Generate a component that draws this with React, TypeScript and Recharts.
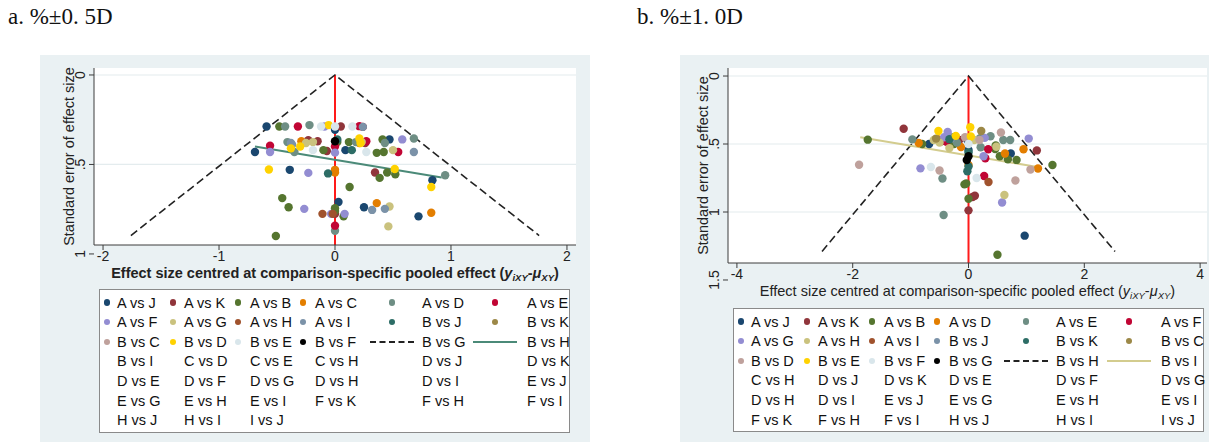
import React from "react";
import {
  CartesianGrid,
  ComposedChart,
  Line,
  ReferenceLine,
  Scatter,
  XAxis,
  YAxis,
} from "recharts";

type Pt = [number, number]; // [centred effect, standard error]

// Stata s2color marker palette, in legend order
const PALETTE = [
  "#1a476f", "#90353b", "#55752f", "#e37e00", "#6e8e84", "#c10534",
  "#938dd2", "#cac27e", "#a0522d", "#7b92a8", "#2d6d66", "#9c8847",
  "#bfa19c", "#ffd200", "#d9e6eb", "#000000",
];

const legendA = [
  "A vs J", "A vs K", "A vs B", "A vs C", "A vs D", "A vs E",
  "A vs F", "A vs G", "A vs H", "A vs I", "B vs J", "B vs K",
  "B vs C", "B vs D", "B vs E", "B vs F", "B vs G", "B vs H",
  "B vs I", "C vs D", "C vs E", "C vs H", "D vs J", "D vs K",
  "D vs E", "D vs F", "D vs G", "D vs H", "D vs I", "E vs J",
  "E vs G", "E vs H", "E vs I", "F vs K", "F vs H", "F vs I",
  "H vs J", "H vs I", "I vs J",
];

const legendB = [
  "A vs J", "A vs K", "A vs B", "A vs D", "A vs E", "A vs F",
  "A vs G", "A vs H", "A vs I", "B vs J", "B vs K", "B vs C",
  "B vs D", "B vs E", "B vs F", "B vs G", "B vs H", "B vs I",
  "C vs H", "D vs J", "D vs K", "D vs E", "D vs F", "D vs G",
  "D vs H", "D vs I", "E vs J", "E vs G", "E vs H", "E vs I",
  "F vs K", "F vs H", "F vs I", "H vs J", "H vs I", "I vs J",
];

// ---- panel a: ±0.5D ----
const a_AvsJ: Pt[] = [[-0.59, 0.288], [0.0, 0.306], [-0.69, 0.43], [0.09, 0.42], [0.47, 0.36], [-0.39, 0.53], [0.84, 0.588], [0.03, 0.71], [0.25, 0.739], [0.72, 0.79]];
const a_AvsK: Pt[] = [[0.05, 0.288], [0.24, 0.29], [-0.23, 0.365], [-0.15, 0.37], [-0.07, 0.425], [0.26, 0.38], [0.345, 0.545], [0.0, 0.776]];
const a_AvsB: Pt[] = [[-0.48, 0.288], [-0.1, 0.42], [0.02, 0.375], [0.12, 0.375], [0.41, 0.36], [0.36, 0.435], [0.42, 0.43], [0.385, 0.575], [0.45, 0.545], [0.52, 0.555], [0.126, 0.626], [-0.455, 0.688], [-0.4, 0.739], [0.0, 0.744], [0.074, 0.79], [-0.51, 0.9], [0.0, 0.76]];
const a_AvsC: Pt[] = [[-0.29, 0.37], [0.0, 0.53], [0.0, 0.545], [0.36, 0.716], [0.83, 0.77], [0.21, 0.38]];
const a_AvsD: Pt[] = [[-0.43, 0.288], [-0.22, 0.28], [-0.41, 0.375], [0.18, 0.375], [0.43, 0.38], [0.68, 0.355], [0.95, 0.56], [0.0, 0.87], [-0.35, 0.43]];
const a_AvsE: Pt[] = [[-0.32, 0.288], [0.21, 0.286], [-0.56, 0.395], [0.0, 0.4], [0.545, 0.43], [0.0, 0.842], [0.27, 0.37]];
const a_AvsF: Pt[] = [[-0.09, 0.288], [-0.56, 0.43], [0.0, 0.434], [0.58, 0.36], [-0.23, 0.547], [-0.265, 0.748], [-0.034, 0.776], [0.083, 0.776]];
const a_AvsG: Pt[] = [[-0.19, 0.375], [-0.25, 0.38], [0.5, 0.42], [0.47, 0.735], [0.46, 0.846], [0.23, 0.375]];
const a_AvsH: Pt[] = [[-0.108, 0.776], [-0.02, 0.776]];
const a_AvsI: Pt[] = [[-0.38, 0.38], [0.24, 0.29], [0.68, 0.43], [0.32, 0.754], [0.43, 0.748], [-0.37, 0.39]];
const a_BvsJ: Pt[] = [[0.02, 0.36], [0.145, 0.42], [-0.06, 0.55]];
const a_BvsK: Pt[] = [];
const a_BvsC: Pt[] = [];
const a_BvsD: Pt[] = [[-0.055, 0.28], [-0.38, 0.41], [0.21, 0.355], [0.22, 0.38], [-0.57, 0.528], [0.515, 0.525], [0.83, 0.626], [-0.3, 0.4]];
const a_BvsE: Pt[] = [[-0.12, 0.288], [0.0, 0.288], [0.15, 0.288], [-0.19, 0.42], [0.27, 0.43]];
const a_BvsF: Pt[] = [[0.0, 0.37]];
const a_funnel: Pt[] = [[-1.76, 0.897], [0, 0], [1.76, 0.897]];
const a_fit: Pt[] = [[-0.69, 0.4], [0.92, 0.573]];

// ---- panel b: ±1.0D ----
const b_AvsJ: Pt[] = [[-0.68, 0.5], [0.0, 0.544], [0.73, 0.57], [0.97, 1.174], [-0.02, 0.47]];
const b_AvsK: Pt[] = [[-1.12, 0.388], [-0.47, 0.48], [-0.16, 0.47], [0.11, 0.88], [0.07, 0.89], [0.0, 0.988], [1.18, 0.547]];
const b_AvsB: Pt[] = [[-1.74, 0.468], [-0.8, 0.5], [-0.25, 0.5], [0.47, 0.51], [0.46, 0.537], [0.54, 0.59], [0.68, 0.613], [0.83, 0.617], [1.45, 0.654], [-0.07, 0.797], [-0.04, 0.79], [0.0, 0.902], [0.5, 1.314]];
const b_AvsD: Pt[] = [[-0.86, 0.492], [-0.53, 0.465], [-0.13, 0.522], [0.0, 0.654], [0.63, 0.57], [0.95, 0.539], [1.2, 0.68]];
const b_AvsE: Pt[] = [[-0.97, 0.466], [-0.27, 0.45], [-0.2, 0.49], [0.2, 0.458], [0.38, 0.443], [0.6, 0.47], [0.72, 0.47], [0.21, 0.524], [-0.45, 0.754], [-0.43, 1.022]];
const b_AvsF: Pt[] = [[-0.38, 0.483], [0.34, 0.539], [0.29, 0.605], [0.27, 0.735]];
const b_AvsG: Pt[] = [[-0.36, 0.412], [-0.42, 0.45], [0.28, 0.455], [0.26, 0.59], [1.04, 0.46], [-0.83, 0.679], [0.58, 0.93]];
const b_AvsH: Pt[] = [[-0.6, 0.47], [-0.5, 0.49], [-0.33, 0.53], [0.48, 0.52], [0.62, 0.875], [0.1, 0.47]];
const b_AvsI: Pt[] = [[0.345, 0.779]];
const b_BvsJ: Pt[] = [[-0.3, 0.46]];
const b_BvsK: Pt[] = [[-0.33, 0.465], [0.0, 0.56], [-0.02, 0.7], [0.0, 0.665]];
const b_BvsC: Pt[] = [[0.22, 0.404], [-0.56, 0.46]];
const b_BvsD: Pt[] = [[-1.89, 0.652], [-0.06, 0.45], [0.56, 0.415], [-0.5, 0.695], [1.07, 0.688], [0.81, 0.768], [0.19, 0.47]];
const b_BvsE: Pt[] = [[-0.52, 0.404], [0.03, 0.377], [0.04, 0.445], [-0.22, 0.44]];
const b_BvsF: Pt[] = [[-0.65, 0.669], [0.14, 0.75], [0.0, 0.5]];
const b_BvsG: Pt[] = [[-0.03, 0.618], [0.0, 0.59]];
const b_funnel: Pt[] = [[-2.53, 1.29], [0, 0], [2.53, 1.29]];
const b_fit: Pt[] = [[-1.87, 0.451], [1.21, 0.67]];

const seriesA = [a_AvsJ, a_AvsK, a_AvsB, a_AvsC, a_AvsD, a_AvsE, a_AvsF, a_AvsG, a_AvsH, a_AvsI, a_BvsJ, a_BvsK, a_BvsC, a_BvsD, a_BvsE, a_BvsF];
const seriesB = [b_AvsJ, b_AvsK, b_AvsB, b_AvsD, b_AvsE, b_AvsF, b_AvsG, b_AvsH, b_AvsI, b_BvsJ, b_BvsK, b_BvsC, b_BvsD, b_BvsE, b_BvsF, b_BvsG];

const FONT = '"Liberation Sans", Arial, Helvetica, sans-serif';
const SERIF = '"Liberation Serif", "DejaVu Serif", serif';
const BG = "#eaf1f3";
const GRID = "#e4ecee";
const AXIS = "#3c3c3c";

const toXY = (pts: Pt[]) => pts.map(([x, y]) => ({ x, y }));
const fmtSE = (v: number) => String(v).replace(/^0\./, ".");

function Dot(props: any) {
  const { cx, cy, fill } = props;
  if (cx == null || cy == null) return null;
  return <circle cx={cx} cy={cy} r={4.2} fill={fill} />;
}

function RotTick(props: any) {
  const { x, y, payload } = props;
  return (
    <text x={x} y={y} transform={`rotate(-90 ${x} ${y})`} textAnchor="middle" fontSize={14} fill="#222" fontFamily={FONT}>
      {fmtSE(payload.value)}
    </text>
  );
}

function YTitle(props: any) {
  const { viewBox, dx } = props;
  const x = viewBox.x + dx;
  const y = viewBox.y + viewBox.height / 2;
  return (
    <text x={x} y={y} transform={`rotate(-90 ${x} ${y})`} textAnchor="middle" fontSize={14.5} fill="#222" fontFamily={FONT}>
      Standard error of effect size
    </text>
  );
}

function XTitle(props: any) {
  const { viewBox, dy, bold } = props;
  return (
    <text x={viewBox.x + viewBox.width / 2} y={viewBox.y + dy} textAnchor="middle" fontSize={14.5} fill="#222" fontFamily={FONT} fontWeight={bold ? 700 : 400}>
      Effect size centred at comparison-specific pooled effect (
      <tspan fontStyle="italic">y</tspan>
      <tspan fontStyle="italic" fontSize={9.5} dy={3}>iXY</tspan>
      <tspan dy={-3}>-</tspan>
      <tspan fontStyle="italic">μ</tspan>
      <tspan fontStyle="italic" fontSize={9.5} dy={3}>XY</tspan>
      <tspan dy={-3}>)</tspan>
    </text>
  );
}

const SYM_X = [7, 73, 138, 203, 292, 395];
const TXT_X = [17, 84, 150, 215, 322, 427];

function StataLegend({ names, lineColor, left, top, height }: { names: string[]; lineColor: string; left: number; top: number; height: number }) {
  return (
    <div style={{ position: "absolute", left, top, width: 471, height, background: "#fff", border: "1.5px solid #8a8a8a", boxSizing: "border-box", fontFamily: FONT, fontSize: 14.5, color: "#111" }}>
      {names.map((n, i) => {
        const row = Math.floor(i / 6);
        const col = i % 6;
        const cy = 12.5 + row * 19.6;
        let sym: React.ReactNode = null;
        if (i < 16) {
          sym = <div style={{ position: "absolute", left: SYM_X[col] - 3.2, top: cy - 3.2, width: 6.4, height: 6.4, borderRadius: "50%", background: PALETTE[i] }} />;
        } else if (i === 16) {
          sym = <div style={{ position: "absolute", left: SYM_X[col] - 22, top: cy - 1, width: 44, height: 0, borderTop: "2px dashed #222" }} />;
        } else if (i === 17) {
          sym = <div style={{ position: "absolute", left: SYM_X[col] - 22, top: cy - 1, width: 44, height: 2, background: lineColor }} />;
        }
        return (
          <React.Fragment key={n + i}>
            {sym}
            <div style={{ position: "absolute", left: TXT_X[col], top: cy - 9, lineHeight: "18px", whiteSpace: "nowrap" }}>{n}</div>
          </React.Fragment>
        );
      })}
    </div>
  );
}

function Funnel({
  series, funnel, fit, fitColor, width, height, marginRight, yAxisWidth, xAxisHeight, xDomain, yDomain, xTicks, yTicks, grid, bold,
}: {
  series: Pt[][]; funnel: Pt[]; fit: Pt[]; fitColor: string; width: number; height: number; marginRight: number;
  yAxisWidth: number; xAxisHeight: number; xDomain: [number, number]; yDomain: [number, number];
  xTicks: number[]; yTicks: number[]; grid: number[]; bold: boolean;
}) {
  return (
    <ComposedChart width={width} height={height} margin={{ top: 13, right: marginRight, bottom: 0, left: 0 }} style={{ fontFamily: FONT }}>
      <CartesianGrid horizontal={false} vertical={false} fill="#ffffff" />
      <XAxis
        type="number" dataKey="x" domain={xDomain} ticks={xTicks} allowDataOverflow interval={0}
        height={xAxisHeight} tickSize={5} tickMargin={1}
        tick={{ fontSize: 14, fill: "#222", fontFamily: FONT }}
        stroke={AXIS}
        label={<XTitle dy={33} bold={bold} />}
      />
      <YAxis
        type="number" dataKey="y" reversed domain={yDomain} ticks={yTicks} allowDataOverflow interval={0}
        width={yAxisWidth} tickSize={5} tickMargin={4}
        tick={<RotTick />}
        stroke={AXIS}
        label={<YTitle dx={yAxisWidth - 20} />}
      />
      {grid.map((g) => (
        <ReferenceLine key={g} y={g} stroke={GRID} strokeWidth={1.2} />
      ))}
      <ReferenceLine segment={[{ x: 0, y: 0 }, { x: 0, y: yDomain[1] }]} stroke="#ff1a1a" strokeWidth={2} />
      {series.map((pts, i) => (
        <Scatter key={i} data={toXY(pts)} fill={PALETTE[i]} shape={<Dot />} isAnimationActive={false} />
      ))}
      <Line data={toXY(funnel)} dataKey="y" type="linear" stroke="#222" strokeWidth={1.6} strokeDasharray="8 4" dot={false} isAnimationActive={false} />
      <Line data={toXY(fit)} dataKey="y" type="linear" stroke={fitColor} strokeWidth={2} dot={false} isAnimationActive={false} />
    </ComposedChart>
  );
}

export default function App() {
  return (
    <div style={{ position: "absolute", left: 0, top: 0, width: 1221, height: 442, background: "#fff", overflow: "hidden" }}>
      <div style={{ position: "absolute", left: 8, top: 4, fontFamily: SERIF, fontSize: 23, color: "#111" }}>
        a. %±0. 5D
      </div>
      <div style={{ position: "absolute", left: 637, top: 4, fontFamily: SERIF, fontSize: 23, color: "#111" }}>
        b. %±1. 0D
      </div>

      <div style={{ position: "absolute", left: 40, top: 55, width: 550, height: 387, background: BG }}>
        <Funnel
          series={seriesA} funnel={a_funnel} fit={a_fit} fitColor="#4b8a78"
          width={550} height={235} marginRight={14} yAxisWidth={54} xAxisHeight={45}
          xDomain={[-2.078, 2.078]} yDomain={[-0.039, 0.95]} xTicks={[-2, -1, 0, 1, 2]} yTicks={[0, 0.5, 1]}
          grid={[0, 0.5]} bold
        />
        <StataLegend names={legendA} lineColor="#4b8a78" left={59} top={234} height={144} />
      </div>

      <div style={{ position: "absolute", left: 680, top: 55, width: 529, height: 387, background: BG }}>
        <Funnel
          series={seriesB} funnel={b_funnel} fit={b_fit} fitColor="#d3cc8e"
          width={529} height={250} marginRight={2} yAxisWidth={48} xAxisHeight={42}
          xDomain={[-4.154, 4.119]} yDomain={[-0.059, 1.375]} xTicks={[-4, -2, 0, 2, 4]} yTicks={[0, 0.5, 1, 1.5]}
          grid={[0, 0.5, 1]} bold={false}
        />
        <StataLegend names={legendB} lineColor="#d3cc8e" left={53} top={253} height={124} />
      </div>
    </div>
  );
}
